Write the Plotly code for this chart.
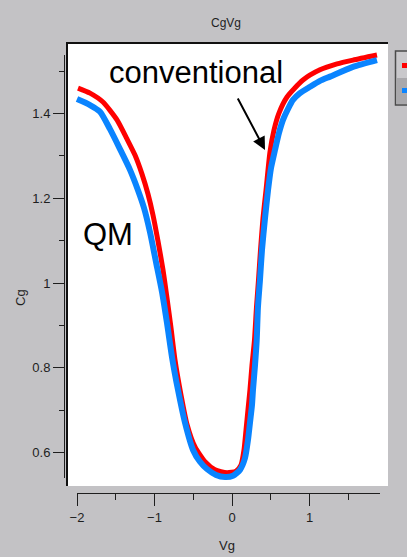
import plotly.graph_objects as go

# ---------------- data ----------------
vg_conv = [-1.987, -1.832, -1.665, -1.484, -1.355, -1.252, -1.161, -1.084, -1.019, -0.955,
           -0.890, -0.839, -0.787, -0.735, -0.658, -0.581, -0.477, -0.348, -0.219, -0.065,
           0.052, 0.116, 0.155, 0.181, 0.206, 0.232, 0.258, 0.290, 0.316, 0.342, 0.368,
           0.400, 0.439, 0.490, 0.542, 0.606, 0.710, 0.916, 1.135, 1.355, 1.561, 1.871]
cg_conv = [1.460, 1.448, 1.427, 1.385, 1.340, 1.302, 1.257, 1.210, 1.160, 1.099,
           1.031, 0.965, 0.894, 0.818, 0.736, 0.667, 0.613, 0.578, 0.559, 0.552,
           0.556, 0.570, 0.606, 0.653, 0.700, 0.748, 0.806, 0.865, 0.943, 1.007, 1.078,
           1.153, 1.219, 1.309, 1.361, 1.401, 1.439, 1.479, 1.503, 1.517, 1.526, 1.538]

vg_qm = [-2.000, -1.832, -1.703, -1.574, -1.445, -1.316, -1.213, -1.135, -1.058, -0.981,
         -0.903, -0.839, -0.774, -0.697, -0.606, -0.503, -0.413, -0.323, -0.206, -0.090,
         0.013, 0.103, 0.168, 0.206, 0.232, 0.258, 0.271, 0.297, 0.319, 0.335, 0.361,
         0.387, 0.426, 0.465, 0.503, 0.555, 0.606, 0.658, 0.723, 0.787, 0.877, 1.006,
         1.135, 1.265, 1.561, 1.871]
cg_qm = [1.434, 1.420, 1.404, 1.363, 1.316, 1.267, 1.219, 1.177, 1.120, 1.050,
         0.979, 0.906, 0.825, 0.748, 0.670, 0.606, 0.578, 0.561, 0.547, 0.542,
         0.545, 0.559, 0.587, 0.629, 0.670, 0.712, 0.748, 0.806, 0.865, 0.943, 1.007,
         1.078, 1.153, 1.219, 1.271, 1.314, 1.354, 1.385, 1.411, 1.432, 1.448, 1.463,
         1.477, 1.487, 1.510, 1.526]

x_ticks = [-2, -1, 0, 1]
y_ticks = [0.6, 0.8, 1.0, 1.2, 1.4]

# ---------------- layout helpers ----------------
W, H = 407, 557
ML, MR, MT, MB = 64, 19, 44, 64
PW, PH = W - ML - MR, H - MT - MB


def px(x):
    return (x - ML) / PW


def py(y):
    return (H - MB - y) / PH


BG = "#c3c2c5"
TXT = "#1e1e1e"
FONT = "Liberation Sans, Arial, sans-serif"

fig = go.Figure()
fig.add_trace(go.Scatter(x=vg_conv, y=cg_conv, mode="lines", name="conventional",
                         line=dict(color="#ff0000", width=5, shape="spline", smoothing=0.6),
                         showlegend=False, hoverinfo="skip"))
fig.add_trace(go.Scatter(x=vg_qm, y=cg_qm, mode="lines", name="QM",
                         line=dict(color="#0a84ff", width=6, shape="spline", smoothing=0.6),
                         showlegend=False, hoverinfo="skip"))
# carrier trace for the tick axes
fig.add_trace(go.Scatter(x=[], y=[], xaxis="x2", yaxis="y2", showlegend=False, hoverinfo="skip"))

fig.update_layout(
    width=W, height=H,
    margin=dict(l=ML, r=MR, t=MT, b=MB, autoexpand=False),
    paper_bgcolor=BG, plot_bgcolor="rgba(0,0,0,0)",
    font=dict(family=FONT, color=TXT, size=13),
    title=dict(text="CgVg", x=0.5, xref="paper", xanchor="center",
               y=1 - 23 / H, yref="container", yanchor="middle",
               font=dict(size=12, color=TXT, family=FONT)),
    xaxis=dict(domain=[px(68), 1], range=[-2.116, 2.013], side="top",
               showline=True, linecolor="#111", linewidth=2, ticks="", showticklabels=False,
               showgrid=False, zeroline=False, fixedrange=True),
    yaxis=dict(domain=[py(486), 1], range=[0.5209, 1.564], side="left",
               showline=True, linecolor="#111", linewidth=2, ticks="", showticklabels=False,
               showgrid=False, zeroline=False, fixedrange=True),
    xaxis2=dict(domain=[px(77), px(380)], range=[-2, 1.9097], anchor="free", position=0,
                showline=True, linecolor=TXT, linewidth=1, ticks="outside", ticklen=12,
                tickcolor=TXT, tickwidth=1, tickvals=x_ticks,
                minor=dict(dtick=0.5, tick0=0, ticks="outside", ticklen=6, tickcolor=TXT),
                tickfont=dict(size=13, color=TXT), showgrid=False, zeroline=False,
                fixedrange=True),
    yaxis2=dict(domain=[py(478), py(55)], range=[0.5398, 1.5381], anchor="free", position=0,
                side="left", showline=True, linecolor=TXT, linewidth=1, ticks="outside",
                ticklen=11, tickcolor=TXT, tickwidth=1, tickvals=y_ticks,
                ticktext=[("%g" % v) for v in y_ticks],
                minor=dict(dtick=0.1, tick0=0, ticks="outside", ticklen=5, tickcolor=TXT),
                tickfont=dict(size=13, color=TXT), showgrid=False, zeroline=False,
                fixedrange=True),
)

# white plotting box
fig.add_shape(type="rect", xref="paper", yref="paper", x0=px(68), x1=px(388),
              y0=py(486), y1=py(44), fillcolor="white", line=dict(width=0), layer="below")

# text annotations
fig.add_annotation(text="conventional", xref="paper", yref="paper", x=px(196), y=py(73),
                   xanchor="center", yanchor="middle", showarrow=False,
                   font=dict(size=31, color="black", family=FONT))
fig.add_annotation(text="QM", xref="paper", yref="paper", x=px(108), y=py(234),
                   xanchor="center", yanchor="middle", showarrow=False,
                   font=dict(size=31, color="black", family=FONT))
fig.add_annotation(text="", x=0.426, y=1.314, xref="x", yref="y", showarrow=True,
                   ax=-28, ay=-53, arrowhead=2, arrowsize=1.3, arrowwidth=2, arrowcolor="black")
fig.add_annotation(text="Vg", xref="paper", yref="paper", x=px(227), y=py(545),
                   xanchor="center", yanchor="middle", showarrow=False,
                   font=dict(size=13, color=TXT, family=FONT))
fig.add_annotation(text="Cg", xref="paper", yref="paper", x=px(20), y=py(298),
                   xanchor="center", yanchor="middle", showarrow=False, textangle=-90,
                   font=dict(size=13, color=TXT, family=FONT))

# legend box (partially visible at right edge)
fig.add_shape(type="rect", xref="paper", yref="paper", x0=px(395.5), x1=px(412),
              y0=py(105), y1=py(51), fillcolor="#c9c8cb", line=dict(color="#4a4a4a", width=1.5))
fig.add_shape(type="rect", xref="paper", yref="paper", x0=px(397), x1=px(412),
              y0=py(104), y1=py(78), fillcolor="#a9a8ab", line=dict(width=0))
fig.add_shape(type="line", xref="paper", yref="paper", x0=px(402), x1=px(412),
              y0=py(65.5), y1=py(65.5), line=dict(color="#ff0000", width=5))
fig.add_shape(type="line", xref="paper", yref="paper", x0=px(402), x1=px(412),
              y0=py(90.5), y1=py(90.5), line=dict(color="#0a84ff", width=5))

fig.write_html("out.html", config={"displayModeBar": False},
               post_script="document.body.style.margin='0';"
               "document.body.style.background='" + BG + "';")
